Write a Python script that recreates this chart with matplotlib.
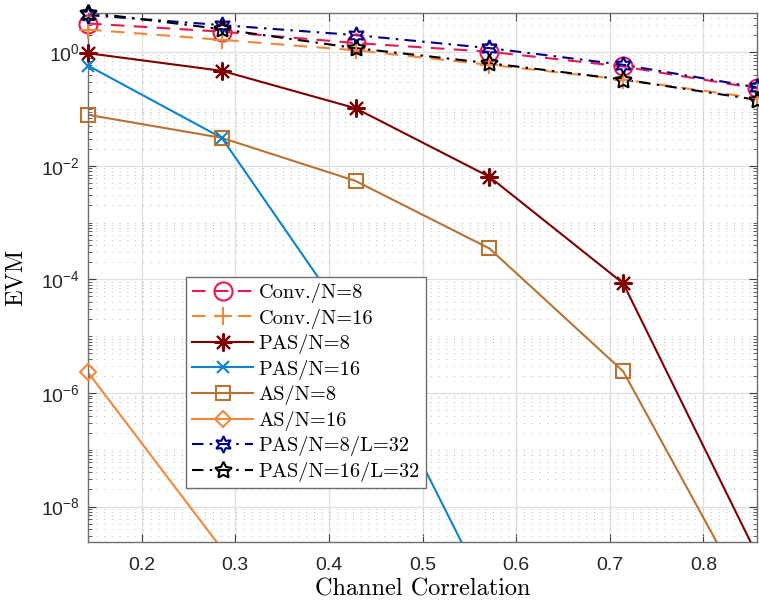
import matplotlib as mpl
mpl.use('Agg')
import matplotlib.pyplot as plt
import matplotlib.ticker as mticker
from matplotlib.lines import Line2D
import numpy as np

plt.rcParams['font.family'] = ['Liberation Sans', 'DejaVu Sans']
plt.rcParams['mathtext.fontset'] = 'custom'
plt.rcParams['mathtext.rm'] = 'Liberation Sans'

# channel correlation points
x = [1/7, 2/7, 3/7, 4/7, 5/7, 6/7]

conv8 = [3.2, 2.3, 1.45, 1.02, 0.56, 0.23]
conv16 = [2.5, 1.65, 1.08, 0.6, 0.33, 0.155]
pas8 = [0.96, 0.47, 0.103, 6.4e-3, 8.5e-5, 1.4e-9]
pas16 = [0.58, 0.031, 1.2e-5, 2.5e-10, 1e-13, 1e-16]
as8 = [0.079, 0.031, 5.4e-3, 3.5e-4, 2.4e-6, 1.2e-10]
as16 = [2.3e-6, 1.8e-9, 1e-12, 1e-15, 1e-18, 1e-21]
pas8_l32 = [4.5, 3.0, 2.0, 1.18, 0.6, 0.24]
pas16_l32 = [5.0, 2.54, 1.18, 0.64, 0.33, 0.145]

labels = ['Conv./N=8', 'Conv./N=16', 'PAS/N=8', 'PAS/N=16',
          'AS/N=8', 'AS/N=16', 'PAS/N=8/L=32', 'PAS/N=16/L=32']

ylo, yhi = 2.4e-9, 4.9

fig = plt.figure(figsize=(7.59, 6.05), dpi=100)
ax = fig.add_axes([88/759, 1 - 541.7/605, (757-88)/759, (541.7-13)/605])

asterisk = (8, 2, 0)
hexagram = (6, 1, 0)
pentagram = (5, 1, 0)
dash = (0, (6.5, 4.5))
dashdot = (0, (5.5, 3, 1.2, 3))

styles = [
    (conv8, '#E8194F', dash, 'o', 13),
    (conv16, '#F5873A', dash, '+', 13),
    (pas8, '#800000', '-', asterisk, 13),
    (pas16, '#0A84D0', '-', 'x', 9),
    (as8, '#B87333', '-', 's', 9.5),
    (as16, '#F5873A', '-', 'D', 8.5),
    (pas8_l32, '#00008B', dashdot, hexagram, 12),
    (pas16_l32, '#000000', dashdot, pentagram, 12.5),
]

handles = []
for (y, c, ls, mk, ms), lab in zip(styles, labels):
    ax.semilogy(x, y, color=c, ls=ls, lw=1.5)
    # markers only where inside the y range, not clipped at the border
    xs = [a for a, b in zip(x, y) if ylo <= b <= yhi * 1.1]
    ys = [b for b in y if ylo <= b <= yhi * 1.1]
    ax.plot(xs, ys, ls='none', marker=mk, ms=ms, mfc='none',
            mew=1.5, mec=c, clip_on=False, zorder=3)
    handles.append(Line2D([], [], color=c, ls=ls, lw=1.5, marker=mk, ms=ms,
                          mfc='none', mew=1.5, mec=c, label=lab))

ax.set_xlim(1/7, 6/7)
ax.set_ylim(ylo, yhi)

ax.xaxis.set_major_locator(mticker.FixedLocator([0.2, 0.3, 0.4, 0.5, 0.6, 0.7, 0.8]))
ax.xaxis.set_major_formatter(mticker.FormatStrFormatter('%.1f'))
ymaj = [1e-8, 1e-6, 1e-4, 1e-2, 1e0]
ax.yaxis.set_major_locator(mticker.FixedLocator(ymaj))
ax.yaxis.set_major_formatter(mticker.FixedFormatter(
    [r'$\mathregular{10^{-8}}$', r'$\mathregular{10^{-6}}$', r'$\mathregular{10^{-4}}$',
     r'$\mathregular{10^{-2}}$', r'$\mathregular{10^{0}}$']))
ax.yaxis.set_minor_locator(mticker.LogLocator(base=10, subs=np.arange(1, 10), numticks=30))
ax.yaxis.set_minor_formatter(mticker.NullFormatter())

ax.tick_params(which='both', direction='in', top=True, right=True,
               color='#404040', labelcolor='#262626', labelsize=14)
ax.tick_params(which='major', length=6, width=0.8)
ax.tick_params(which='minor', length=3, width=0.6)
ax.tick_params(axis='x', pad=11)
ax.tick_params(axis='y', pad=6)
for sp in ax.spines.values():
    sp.set_color('#6e6e6e')
    sp.set_linewidth(1.0)

ax.grid(True, which='major', color='#dfdfdf', lw=0.9, ls='-')
ax.grid(True, which='minor', axis='y', color='#bdbdbd', lw=0.7, ls=(0, (1, 7)))
ax.set_axisbelow(True)

ax.set_xlabel('Channel Correlation', fontfamily='cmr10', fontsize=17.5, labelpad=3)
ax.set_ylabel('EVM', fontfamily='cmr10', fontsize=17.5, labelpad=10)

leg = ax.legend(handles=handles, loc='upper left', bbox_to_anchor=(0.1465, 0.5007),
                borderaxespad=0, prop={'family': 'cmr10', 'size': 14.7},
                handlelength=3.0, labelspacing=0.27, handletextpad=0.25,
                borderpad=0.3, fancybox=False, framealpha=1, edgecolor='#6e6e6e')
leg.get_frame().set_linewidth(1.0)

fig.savefig('out.png', dpi=100)
